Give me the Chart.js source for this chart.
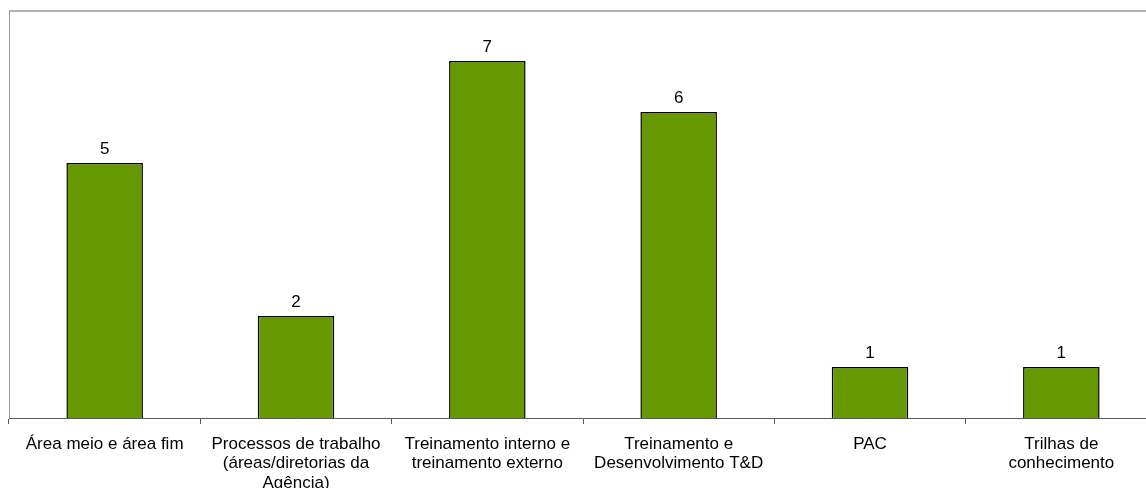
<!DOCTYPE html>
<html>
<head>
<meta charset="utf-8">
<script src="https://cdn.jsdelivr.net/npm/chart.js@4.4.0/dist/chart.umd.min.js"></script>
<style>
  html, body { margin: 0; padding: 0; background: #fff; overflow: hidden; }
  #wrap { width: 1157px; height: 488px; }
</style>
</head>
<body>
<div id="wrap"><canvas id="bar-chart" width="1157" height="488"></canvas></div>
<script>
const categories = [
  'Área meio e área fim',
  ['Processos de trabalho', '(áreas/diretorias da', 'Agência)'],
  ['Treinamento interno e', 'treinamento externo'],
  ['Treinamento e', 'Desenvolvimento T&D'],
  'PAC',
  ['Trilhas de', 'conhecimento']
];
const counts = [5, 2, 7, 6, 1, 1];
const yMin = 0;
const yMax = 8;

// frame lines on top and left of the plot
const framePlugin = {
  id: 'frame',
  afterDraw(chart) {
    const { ctx, chartArea } = chart;
    ctx.save();
    ctx.strokeStyle = '#b4b4b4';
    ctx.lineWidth = 2;
    ctx.beginPath();
    ctx.moveTo(chartArea.left, chartArea.top + 1);
    ctx.lineTo(chartArea.right, chartArea.top + 1);
    ctx.stroke();
    ctx.strokeStyle = '#9a9a9a';
    ctx.lineWidth = 1;
    ctx.beginPath();
    ctx.moveTo(chartArea.left + 0.5, chartArea.top);
    ctx.lineTo(chartArea.left + 0.5, chartArea.bottom);
    ctx.stroke();
    ctx.restore();
  }
};

// value labels above each bar
const valueLabels = {
  id: 'valueLabels',
  afterDatasetsDraw(chart) {
    const { ctx } = chart;
    const meta = chart.getDatasetMeta(0);
    ctx.save();
    ctx.font = '17px "Liberation Sans", Arial, sans-serif';
    ctx.fillStyle = '#000';
    ctx.textAlign = 'center';
    ctx.textBaseline = 'alphabetic';
    meta.data.forEach((bar, i) => {
      ctx.fillText(String(counts[i]), bar.x, bar.y - 9.5);
    });
    ctx.restore();
  }
};

const ctx = document.getElementById('bar-chart').getContext('2d');
new Chart(ctx, {
  type: 'bar',
  data: {
    labels: categories,
    datasets: [{
      data: counts,
      backgroundColor: '#669900',
      borderColor: '#000',
      borderWidth: 1.5,
      barPercentage: 0.4,
      categoryPercentage: 1
    }]
  },
  options: {
    responsive: false,
    animation: false,
    devicePixelRatio: 1,
    layout: { padding: { left: 9, top: 10, right: 0, bottom: 0 } },
    plugins: {
      legend: { display: false },
      tooltip: { enabled: false }
    },
    scales: {
      x: {
        grid: {
          offset: true,
          drawOnChartArea: false,
          drawTicks: true,
          tickLength: 6,
          color: '#5a5a5a'
        },
        border: { color: '#5a5a5a', width: 1 },
        ticks: {
          color: '#000',
          padding: 10,
          maxRotation: 0,
          autoSkip: false,
          font: { family: '"Liberation Sans", Arial, sans-serif', size: 17, lineHeight: 1.16 }
        },
        afterFit(scale) { scale.height = 70; }
      },
      y: {
        display: false,
        min: yMin,
        max: yMax
      }
    }
  },
  plugins: [framePlugin, valueLabels]
});
</script>
</body>
</html>
